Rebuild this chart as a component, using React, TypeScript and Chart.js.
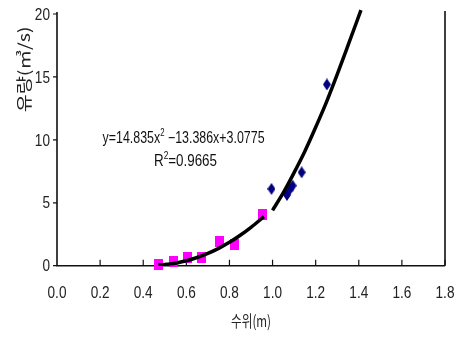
import React, { useEffect, useRef } from "react";
import { Chart, registerables } from "chart.js";
Chart.register(...registerables);

const xTickValues = [0, 0.2, 0.4, 0.6, 0.8, 1.0, 1.2, 1.4, 1.6, 1.8];
const yTickValues = [0, 5, 10, 15, 20];

const pinkX = [0.47, 0.54, 0.605, 0.67, 0.755, 0.825, 0.955];
const pinkY = [0.07, 0.3, 0.63, 0.63, 1.92, 1.66, 4.05];

const blueX = [0.995, 1.067, 1.082, 1.093, 1.135, 1.252];
const blueY = [6.1, 5.62, 6.1, 6.36, 7.42, 14.4];

const fit1X = [0.47, 0.5, 0.55, 0.6, 0.65, 0.7, 0.75, 0.8, 0.85, 0.9, 0.96];
const fit1Y = [0.06, 0.09, 0.2, 0.39, 0.65, 0.98, 1.38, 1.86, 2.42, 3.05, 3.9];

const fit2X = [1.0, 1.05, 1.1, 1.15, 1.2, 1.25, 1.3, 1.35, 1.41];
const fit2Y = [4.4, 5.8, 7.4, 9.1, 11.0, 13.0, 15.2, 17.5, 20.3];

const eqMain1 = "y=14.835x";
const eqSup1 = "2";
const eqMain2 = " \u221213.386x+3.0775";
const r2Main1 = "R";
const r2Sup = "2";
const r2Main2 = "=0.9665";

const xTitle = "수위(m)";
const yTitle = "유량(㎥/s)";

const SANS = "'Liberation Sans', Arial, sans-serif";
const KR = "'Noto Sans CJK KR', sans-serif";

function makeSquare() {
  const c = document.createElement("canvas");
  c.width = 9;
  c.height = 11;
  const g = c.getContext("2d")!;
  g.fillStyle = "#ff00ff";
  g.fillRect(0, 0, 9, 11);
  return c;
}
function makeDiamond() {
  const c = document.createElement("canvas");
  c.width = 8;
  c.height = 12;
  const g = c.getContext("2d")!;
  g.fillStyle = "#000080";
  g.beginPath();
  g.moveTo(4, 0);
  g.lineTo(8, 6);
  g.lineTo(4, 12);
  g.lineTo(0, 6);
  g.closePath();
  g.fill();
  return c;
}

function drawScaled(ctx: any, text: string, font: string, x: number, y: number, sx: number, align: string, rot = 0) {
  ctx.save();
  ctx.font = font;
  ctx.translate(x, y);
  if (rot) ctx.rotate(rot);
  ctx.scale(sx, 1);
  ctx.textAlign = align;
  ctx.textBaseline = "middle";
  ctx.fillText(text, 0, 0);
  ctx.restore();
}

function drawParts(ctx: any, parts: [string, boolean][], cx: number, y: number, targetW: number) {
  const mainFont = "16px " + SANS;
  const supFont = "10px " + SANS;
  let w = 0;
  parts.forEach(([t, sup]) => {
    ctx.font = sup ? supFont : mainFont;
    w += ctx.measureText(t).width;
  });
  const sx = targetW / w;
  ctx.save();
  ctx.translate(cx - targetW / 2, y);
  ctx.scale(sx, 1);
  ctx.textAlign = "left";
  ctx.textBaseline = "alphabetic";
  let x = 0;
  parts.forEach(([t, sup]) => {
    ctx.font = sup ? supFont : mainFont;
    ctx.fillText(t, x, sup ? -7 : 0);
    x += ctx.measureText(t).width;
  });
  ctx.restore();
}

const axesPlugin = {
  id: "axesPlugin",
  beforeDatasetsDraw(chart: any) {
    const { ctx, chartArea, scales } = chart;
    const { left, right, top, bottom } = chartArea;
    ctx.save();
    ctx.strokeStyle = "#111";
    ctx.lineWidth = 1.6;
    ctx.beginPath();
    ctx.moveTo(left, top - 2);
    ctx.lineTo(left, bottom);
    ctx.lineTo(right, bottom);
    ctx.moveTo(right, top - 3);
    ctx.lineTo(right, bottom);
    ctx.stroke();
    ctx.lineWidth = 1.2;
    ctx.beginPath();
    xTickValues.forEach((v) => {
      if (v === 0) return;
      const px = scales.x.getPixelForValue(v);
      ctx.moveTo(px, bottom);
      ctx.lineTo(px, bottom - 6);
    });
    yTickValues.forEach((v) => {
      const py = scales.y.getPixelForValue(v);
      ctx.moveTo(left - 4, py);
      ctx.lineTo(left, py);
    });
    ctx.stroke();
    ctx.restore();
  },
  afterDraw(chart: any) {
    const { ctx, chartArea, scales } = chart;
    const { left, right, bottom } = chartArea;
    ctx.save();
    ctx.fillStyle = "#222";
    const tickFont = "17px " + SANS;
    xTickValues.forEach((v) => {
      drawScaled(ctx, v.toFixed(1), tickFont, scales.x.getPixelForValue(v), bottom + 28, 0.8, "center");
    });
    yTickValues.forEach((v) => {
      drawScaled(ctx, String(v), tickFont, left - 7, scales.y.getPixelForValue(v) + 1, 0.8, "right");
    });
    // x title
    ctx.font = "16px " + KR;
    const xw = ctx.measureText(xTitle).width;
    drawScaled(ctx, xTitle, "16px " + KR, (left + right) / 2, bottom + 55, 40 / xw, "center");
    // y title
    const yw = ctx.measureText(yTitle).width;
    drawScaled(ctx, yTitle, "16px " + KR, left - 33, scales.y.getPixelForValue(15.6), 86 / yw, "center", -Math.PI / 2);

    ctx.fillStyle = "#111";
    drawParts(
      ctx,
      [
        [eqMain1, false],
        [eqSup1, true],
        [eqMain2, false],
      ],
      scales.x.getPixelForValue(0.587),
      scales.y.getPixelForValue(10.25) + 6,
      162
    );
    drawParts(
      ctx,
      [
        [r2Main1, false],
        [r2Sup, true],
        [r2Main2, false],
      ],
      scales.x.getPixelForValue(0.596),
      scales.y.getPixelForValue(8.4) + 6,
      63
    );
    ctx.restore();
  },
};

export default function App() {
  const ref = useRef<HTMLCanvasElement>(null);
  useEffect(() => {
    const square = makeSquare();
    const diamond = makeDiamond();
    const toPts = (xs: number[], ys: number[]) => xs.map((x, i) => ({ x, y: ys[i] }));
    const chart = new Chart(ref.current!, {
      type: "scatter",
      data: {
        datasets: [
          {
            data: toPts(fit1X, fit1Y),
            showLine: true,
            borderColor: "#000",
            borderWidth: 3.5,
            pointRadius: 0,
            cubicInterpolationMode: "monotone",
            order: 0,
          } as any,
          {
            data: toPts(fit2X, fit2Y),
            showLine: true,
            borderColor: "#000",
            borderWidth: 3.5,
            pointRadius: 0,
            cubicInterpolationMode: "monotone",
            order: 0,
            clip: false,
          } as any,
          {
            data: toPts(pinkX, pinkY),
            pointStyle: square,
            pointRadius: 6,
            clip: false,
            order: 1,
          } as any,
          {
            data: toPts(blueX, blueY),
            pointStyle: diamond,
            pointRadius: 6,
            clip: false,
            order: 1,
          } as any,
        ],
      },
      options: {
        animation: false,
        responsive: false,
        events: [],
        layout: { padding: { top: 14, right: 11, left: 0, bottom: 0 } },
        plugins: { legend: { display: false }, tooltip: { enabled: false } },
        scales: {
          x: {
            type: "linear",
            min: 0,
            max: 1.8,
            afterBuildTicks: (s: any) => {
              s.ticks = xTickValues.map((v) => ({ value: v }));
            },
            ticks: { display: false },
            grid: { display: false, drawTicks: false },
            border: { display: false },
            afterFit: (s: any) => {
              s.height = 72.3;
            },
          },
          y: {
            type: "linear",
            min: 0,
            max: 20,
            afterBuildTicks: (s: any) => {
              s.ticks = yTickValues.map((v) => ({ value: v }));
            },
            ticks: { display: false },
            grid: { display: false, drawTicks: false },
            border: { display: false },
            afterFit: (s: any) => {
              s.width = 57;
            },
          },
        },
      } as any,
      plugins: [axesPlugin],
    });
    return () => chart.destroy();
  }, []);
  return (
    <div style={{ position: "absolute", left: 0, top: 0, width: 456, height: 338, background: "#fff" }}>
      <canvas ref={ref} width={456} height={338} style={{ display: "block" }} />
    </div>
  );
}
